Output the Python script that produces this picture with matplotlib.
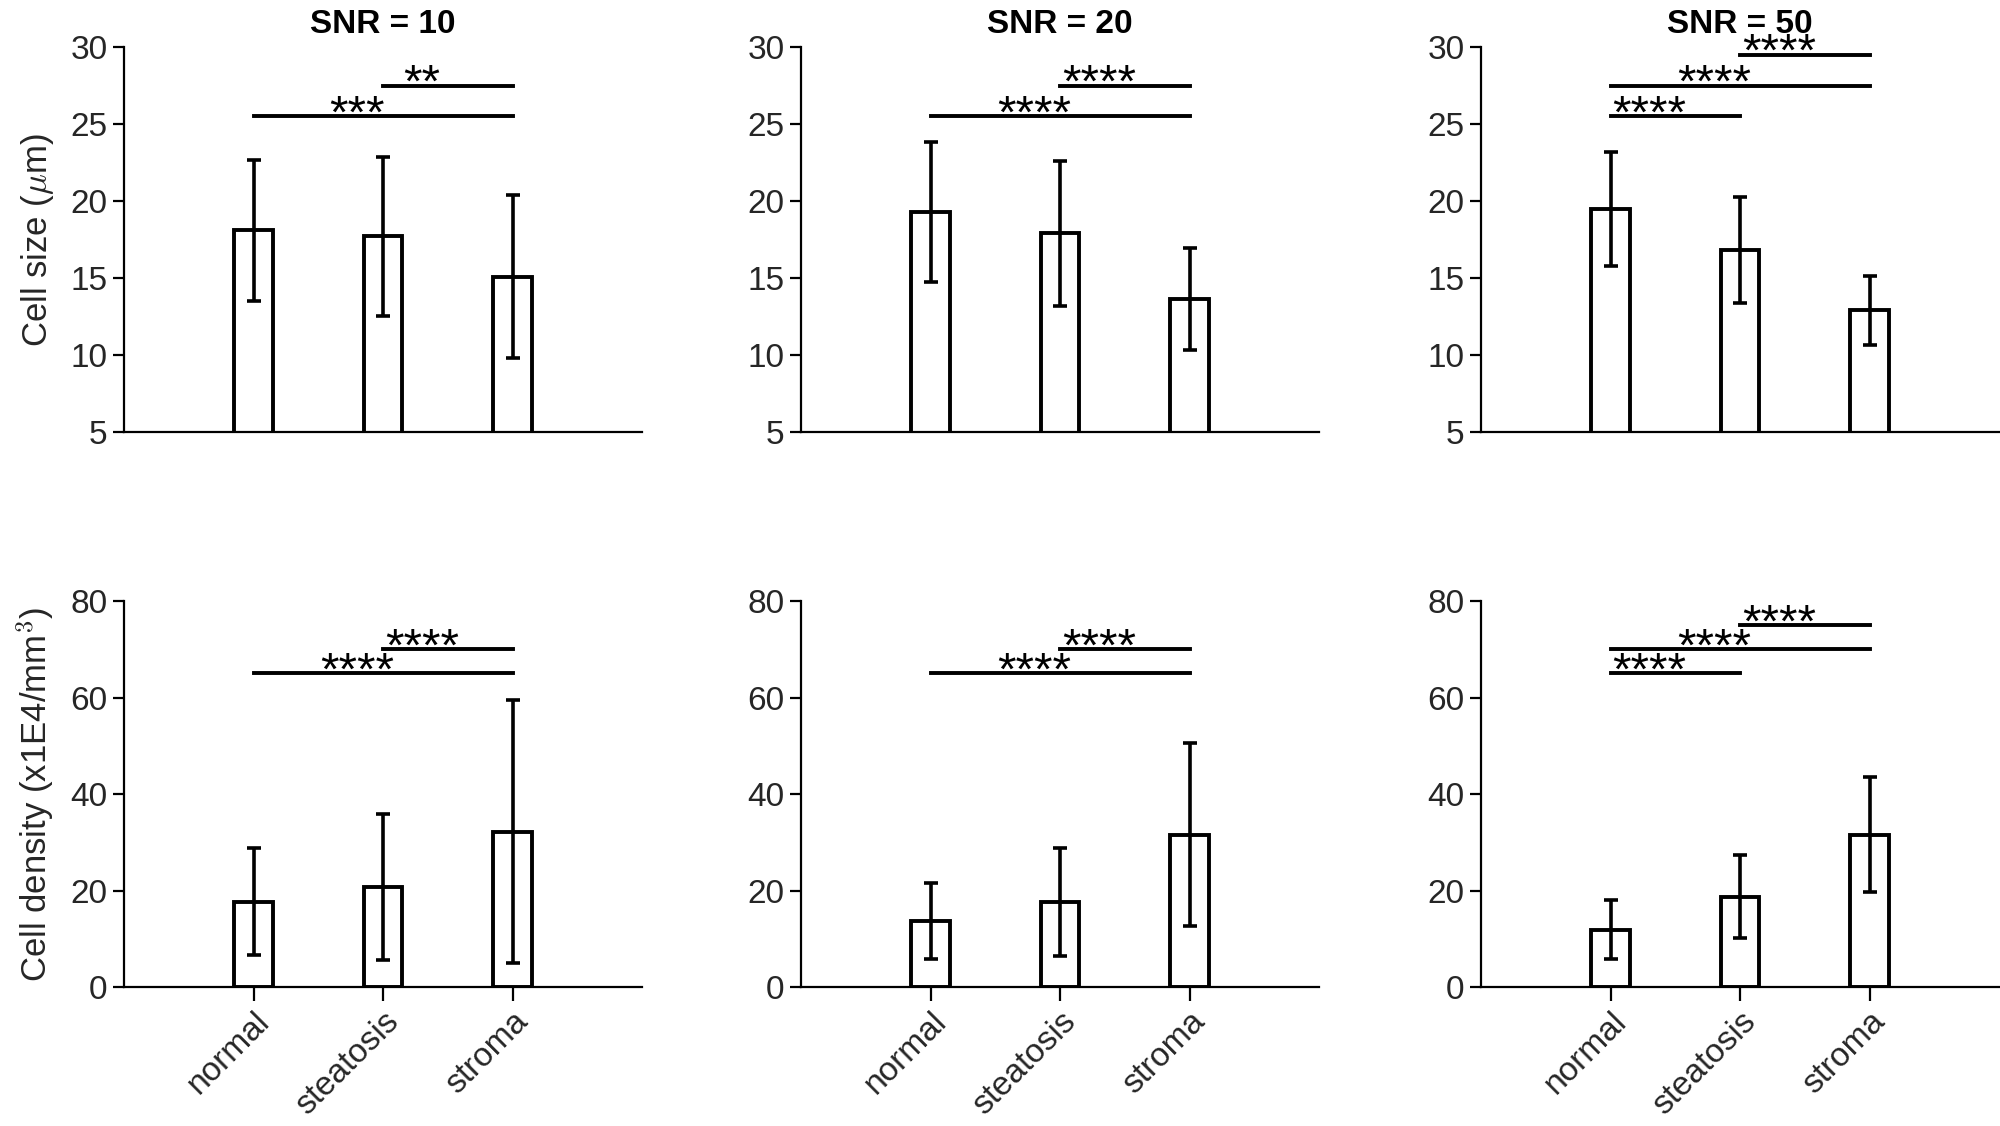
import numpy as np
import matplotlib
matplotlib.use('Agg')
from matplotlib import pyplot as plt

plt.rcParams['font.family'] = ['Liberation Sans', 'DejaVu Sans']
plt.rcParams['mathtext.fontset'] = 'cm'

categories = ['normal', 'steatosis', 'stroma']
snr_titles = ['SNR = 10', 'SNR = 20', 'SNR = 50']

# cell size (um): mean and std per SNR
size_mean_10 = [18.1, 17.7, 15.1]
size_std_10 = [4.57, 5.15, 5.3]
size_mean_20 = [19.3, 17.9, 13.65]
size_std_20 = [4.55, 4.7, 3.3]
size_mean_50 = [19.5, 16.8, 12.9]
size_std_50 = [3.7, 3.45, 2.25]

# cell density (x1E4/mm^3)
dens_mean_10 = [17.7, 20.7, 32.2]
dens_std_10 = [11.1, 15.1, 27.2]
dens_mean_20 = [13.7, 17.7, 31.6]
dens_std_20 = [7.9, 11.2, 19.0]
dens_mean_50 = [11.9, 18.7, 31.6]
dens_std_50 = [6.1, 8.6, 12.0]

# significance bars: (group a, group b, height, label)
size_sig_10 = [(1, 3, 25.5, '***'), (2, 3, 27.5, '**')]
size_sig_20 = [(1, 3, 25.5, '****'), (2, 3, 27.5, '****')]
size_sig_50 = [(1, 2, 25.5, '****'), (1, 3, 27.5, '****'), (2, 3, 29.5, '****')]
dens_sig_10 = [(1, 3, 65, '****'), (2, 3, 70, '****')]
dens_sig_20 = [(1, 3, 65, '****'), (2, 3, 70, '****')]
dens_sig_50 = [(1, 2, 65, '****'), (1, 3, 70, '****'), (2, 3, 75, '****')]

size_means = [size_mean_10, size_mean_20, size_mean_50]
size_stds = [size_std_10, size_std_20, size_std_50]
size_sigs = [size_sig_10, size_sig_20, size_sig_50]
dens_means = [dens_mean_10, dens_mean_20, dens_mean_50]
dens_stds = [dens_std_10, dens_std_20, dens_std_50]
dens_sigs = [dens_sig_10, dens_sig_20, dens_sig_50]

text_color = '#262626'
fs = 24

fig = plt.figure(figsize=(20, 11.26), dpi=100)

lefts = [0.062, 0.4005, 0.7405]
width = 0.259
x = np.arange(1, len(categories) + 1)


def draw_panel(ax, means, stds, sigs, ylim, yticks):
    ax.bar(x, means, width=0.3, bottom=0, color='white', edgecolor='black',
           linewidth=2.8, zorder=2)
    ax.errorbar(x, means, yerr=stds, fmt='none', ecolor='black', elinewidth=2.6,
                capsize=5, capthick=2.6, zorder=3)
    for a, b, h, label in sigs:
        ax.plot([a, b], [h, h], color='black', linewidth=2.8, clip_on=False)
        ax.annotate(label, xy=((a + b) / 2 - 0.2, h), xytext=(0, -8),
                    textcoords='offset points', ha='center', va='baseline',
                    fontsize=34, annotation_clip=False)
    ax.set_xlim(0, 4)
    ax.set_ylim(*ylim)
    ax.set_yticks(yticks)
    ax.spines['top'].set_visible(False)
    ax.spines['right'].set_visible(False)
    for s in ['left', 'bottom']:
        ax.spines[s].set_linewidth(1.6)
    ax.tick_params(axis='y', direction='out', length=8, width=1.6,
                   labelsize=fs, labelcolor=text_color, pad=4)
    ax.tick_params(axis='x', direction='out', length=10, width=1.6,
                   labelsize=fs, labelcolor=text_color)


for i in range(3):
    ax = fig.add_axes([lefts[i], 0.6163, width, 0.3419])
    draw_panel(ax, size_means[i], size_stds[i], size_sigs[i], (5, 30),
               [5, 10, 15, 20, 25, 30])
    ax.set_xticks([])
    ax.set_title(snr_titles[i], fontsize=fs, fontweight='bold', pad=10)
    if i == 0:
        ax.set_ylabel(r'Cell size ($\mu$m)', fontsize=25, color=text_color,
                      labelpad=10)

    ax = fig.add_axes([lefts[i], 0.1234, width, 0.3428])
    draw_panel(ax, dens_means[i], dens_stds[i], dens_sigs[i], (0, 80),
               [0, 20, 40, 60, 80])
    ax.set_xticks(x)
    ax.set_xticklabels(categories, rotation=45, ha='right',
                       rotation_mode='anchor')
    if i == 0:
        ax.set_ylabel(r'Cell density (x1E4/mm$^3$)', fontsize=25,
                      color=text_color, labelpad=10)

fig.savefig('out.png', dpi=100)
